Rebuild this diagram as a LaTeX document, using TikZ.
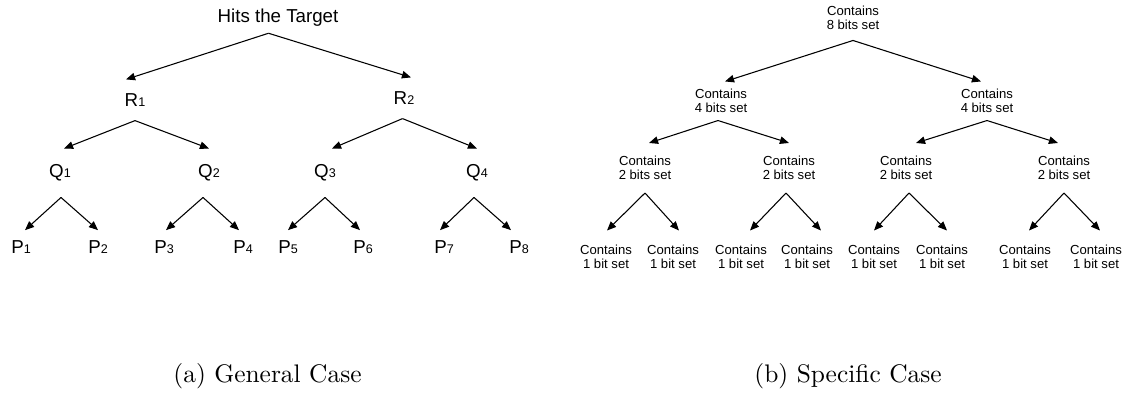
\documentclass[tikz,border=0pt]{standalone}
\usepackage{fontspec}
\usepackage{tikz}
\usetikzlibrary{arrows.meta}
\newfontfamily\arialfont{Liberation Sans}
\newcommand{\lowsub}[1]{{\fontsize{4.7}{5}\selectfont #1}}

\begin{document}
\begin{tikzpicture}[x=0.3738pt,y=-0.3738pt]
        \tikzstyle{lbl} = [font=\arialfont\fontsize{7}{8}\selectfont,inner sep=0pt,minimum height=15pt]
        \tikzstyle{bits} = [font=\arialfont\fontsize{4.9}{5.4}\selectfont,align=center,inner sep=0pt,minimum height=16.4pt]
        \tikzstyle{edge} = [line width=0.4pt,-{Triangle[length=3.4pt,width=2.8pt]}]
        \tikzstyle{captxt} = [font=\fontsize{9.5}{11}\selectfont]
        \useasboundingbox (0,0) rectangle (1135,396);

        % (a) general case
        \node[lbl,minimum height=11pt] (t) at (278,18) {Hits the Target};
        \foreach \l/\x/\y/\n in {r1/135/100/1, r2/404/98/2} {
          \node[lbl] (\l) at (\x,\y) {R\lowsub{\n}};
        }
        \foreach \l/\x/\n in {q1/60/1, q2/209/2, q3/325/3, q4/477/4} {
          \node[lbl,minimum height=17.9pt] (\l) at (\x,173) {Q\lowsub{\n}};
        }
        \foreach \l/\x/\n in {p1/21/1, p2/98/2, p3/164/3, p4/243/4,
          p5/288/5, p6/363/6, p7/444/7, p8/519/8} {
          \node[lbl,minimum height=12.2pt] (\l) at (\x,247) {P\lowsub{\n}};
        }
        \foreach \a/\sa/\b/\sb in {t/-9.5/r1/-9, t/-9.5/r2/7, r1/0/q1/4, r1/0/q2/0,
          r2/-1.5/q3/7, r2/-1.5/q4/0, q1/1/p1/4, q1/1/p2/0, q2/-6/p3/2, q2/-6/p4/-4,
          q3/0/p5/0, q3/0/p6/-3, q4/-3/p7/-4, q4/-3/p8/-8} {
          \draw[edge] ([xshift=\sa*0.3738pt]\a.south) -- ([xshift=\sb*0.3738pt]\b.north);
        }

        % (b) specific case
        \node[bits] (b0) at (853,18) {Contains\\8 bits set};
        \foreach \l/\x in {b1/721, b2/987} {
          \node[bits,minimum height=14.2pt] (\l) at (\x,101) {Contains\\4 bits set};
        }
        \foreach \l/\x in {c1/645, c2/789, c3/906, c4/1064} {
          \node[bits,minimum height=18.3pt] (\l) at (\x,168) {Contains\\2 bits set};
        }
        \foreach \l/\x in {d1/606, d2/673, d3/741, d4/807,
          d5/874, d6/942, d7/1025, d8/1096} {
          \node[bits,minimum height=19.4pt] (\l) at (\x,257) {Contains\\1 bit set};
        }
        \foreach \a/\sa/\b/\sb in {b0/0/b1/4, b0/0/b2/-6, b1/-3/c1/4, b1/-3/c2/0,
          b2/0/c3/10, b2/0/c4/-6, c1/0/d1/1, c1/0/d2/6, c2/-3/d3/9, c2/-3/d4/14,
          c3/3/d5/0, c3/3/d6/5, c4/0/d7/4, c4/0/d8/4} {
          \draw[edge] ([xshift=\sa*0.3738pt]\a.south) -- ([xshift=\sb*0.3738pt]\b.north);
        }

        % captions
        \node[captxt] (capa) at (267.5,376) {(a) General Case};
        \node[captxt] (capb) at (848,376) {(b) Specific Case};
\end{tikzpicture}
\end{document}
